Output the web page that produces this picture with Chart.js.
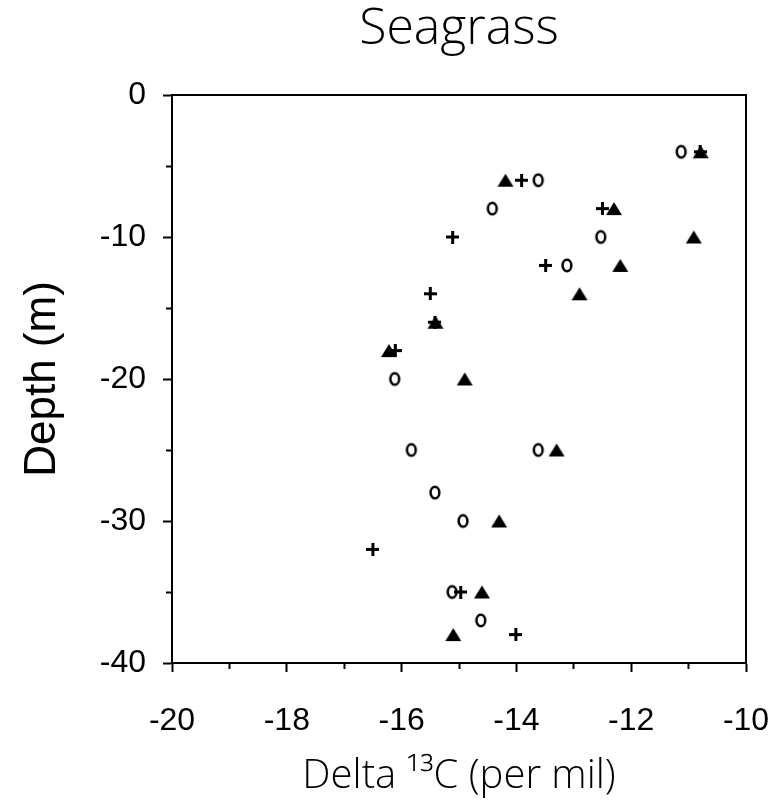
<!DOCTYPE html>
<html>
<head>
<meta charset="utf-8">
<script src="https://cdn.jsdelivr.net/npm/chart.js@4.4.1/dist/chart.umd.min.js"></script>
<style>
  html, body { margin: 0; padding: 0; background: #fff; }
  canvas { display: block; }
</style>
</head>
<body>
<canvas id="seagrassChart" width="783" height="803"></canvas>
<script>
// delta 13C (per mil) against depth (m), three sample groups
const circleDelta = [-11.13, -13.62, -14.42, -12.53, -13.12, -16.12, -15.83, -13.62, -15.42, -14.93, -15.12, -14.62];
const circleDepth = [-4, -6, -8, -10, -12, -20, -25, -25, -28, -30, -35, -37];

const triangleDelta = [-10.79, -14.19, -12.30, -10.91, -12.19, -12.90, -15.41, -16.22, -14.90, -13.30, -14.30, -14.60, -15.10];
const triangleDepth = [-4, -6, -8, -10, -12, -14, -16, -18, -20, -25, -30, -35, -38];

const plusDelta = [-10.80, -13.91, -12.50, -15.11, -13.49, -15.50, -15.42, -16.11, -16.50, -14.97, -14.01];
const plusDepth = [-4, -6, -8, -10, -12, -14, -16, -18, -32, -35, -38];

const xTicks = [-20, -18, -16, -14, -12, -10];
const yTicks = [0, -10, -20, -30, -40];

const toPoints = (xs, ys) => xs.map((x, i) => ({ x: x, y: ys[i] }));

// little canvases used as marker images
const makeMarker = (w, h, paint) => {
    const c = document.createElement('canvas');
    c.width = w;
    c.height = h;
    paint(c.getContext('2d'));
    return c;
};

const ellipseMark = makeMarker(14, 17, (g) => {
    g.beginPath();
    g.ellipse(7, 8.5, 4.4, 5.8, 0, 0, Math.PI * 2);
    g.lineWidth = 2.5;
    g.strokeStyle = '#000';
    g.stroke();
});

const triangleMark = makeMarker(18, 15, (g) => {
    g.beginPath();
    g.moveTo(9, 1);
    g.lineTo(17, 14);
    g.lineTo(1, 14);
    g.closePath();
    g.fillStyle = '#000';
    g.fill();
});

const plusMark = makeMarker(13, 13, (g) => {
    g.fillStyle = '#000';
    g.fillRect(0, 5, 13, 3);
    g.fillRect(5, 0, 3, 13);
});

const frame = {
    id: 'frame',
    afterDraw(chart) {
        const { ctx, chartArea } = chart;
        ctx.save();
        ctx.strokeStyle = '#000';
        ctx.lineWidth = 2;
        ctx.strokeRect(chartArea.left, chartArea.top, chartArea.right - chartArea.left, chartArea.bottom - chartArea.top);
        ctx.restore();
    }
};

new Chart(document.getElementById('seagrassChart'), {
    type: 'scatter',
    data: {
        datasets: [
            {
                label: 'triangle',
                data: toPoints(triangleDelta, triangleDepth),
                pointStyle: triangleMark,
                pointRadius: 8,
                order: 0
            },
            {
                label: 'plus',
                data: toPoints(plusDelta, plusDepth),
                pointStyle: plusMark,
                pointRadius: 7,
                order: 1
            },
            {
                label: 'circle',
                data: toPoints(circleDelta, circleDepth),
                pointStyle: ellipseMark,
                pointRadius: 7,
                order: 2
            }
        ]
    },
    options: {
        responsive: false,
        animation: false,
        events: [],
        layout: { padding: { left: 0, right: 37, top: 0, bottom: 0 } },
        plugins: {
            legend: { display: false },
            tooltip: { enabled: false },
            title: {
                display: true,
                text: 'Seagrass',
                fullSize: false,
                color: '#000',
                font: { family: '"Open Sans", sans-serif', size: 50, weight: '300' },
                padding: { top: 0, bottom: 35 }
            }
        },
        scales: {
            x: {
                type: 'linear',
                min: -20,
                max: -10,
                afterFit: (scale) => {
                    scale.height = 140;
                    scale.paddingLeft = 0;
                    scale.paddingRight = 0;
                },
                border: { display: true, color: '#000', width: 2 },
                grid: {
                    drawOnChartArea: false,
                    drawTicks: true,
                    tickLength: 9,
                    tickWidth: 2,
                    tickColor: '#000',
                    tickBorderDash: (ctx) => (ctx.tick && !xTicks.includes(ctx.tick.value) ? [5, 100] : [])
                },
                ticks: {
                    stepSize: 1,
                    autoSkip: false,
                    maxRotation: 0,
                    padding: 30,
                    color: '#000',
                    font: { family: '"Liberation Sans", Arial, sans-serif', size: 32 },
                    callback: (v) => (xTicks.includes(v) ? String(v) : '')
                },
                title: {
                    display: true,
                    text: 'Delta \u00b9\u00b3C (per mil)',
                    color: '#000',
                    font: { family: '"Open Sans", sans-serif', size: 40, weight: '300' },
                    padding: { top: 0, bottom: 2 }
                }
            },
            y: {
                type: 'linear',
                min: -40,
                max: 0,
                afterFit: (scale) => {
                    scale.width = 172;
                    scale.paddingTop = 0;
                    scale.paddingBottom = 0;
                },
                border: { display: true, color: '#000', width: 2 },
                grid: {
                    drawOnChartArea: false,
                    drawTicks: true,
                    tickLength: 9,
                    tickWidth: 2,
                    tickColor: '#000',
                    tickBorderDash: (ctx) => (ctx.tick && !yTicks.includes(ctx.tick.value) ? [0, 3, 6, 100] : [])
                },
                ticks: {
                    stepSize: 5,
                    padding: 17,
                    color: '#000',
                    font: { family: '"Liberation Sans", Arial, sans-serif', size: 32 },
                    callback: (v) => (yTicks.includes(v) ? String(v) : '')
                },
                title: {
                    display: true,
                    text: 'Depth (m)',
                    color: '#000',
                    font: { family: '"Liberation Sans", Arial, sans-serif', size: 44 },
                    padding: { top: 16, bottom: 0 }
                }
            }
        }
    },
    plugins: [frame]
});
</script>
</body>
</html>
